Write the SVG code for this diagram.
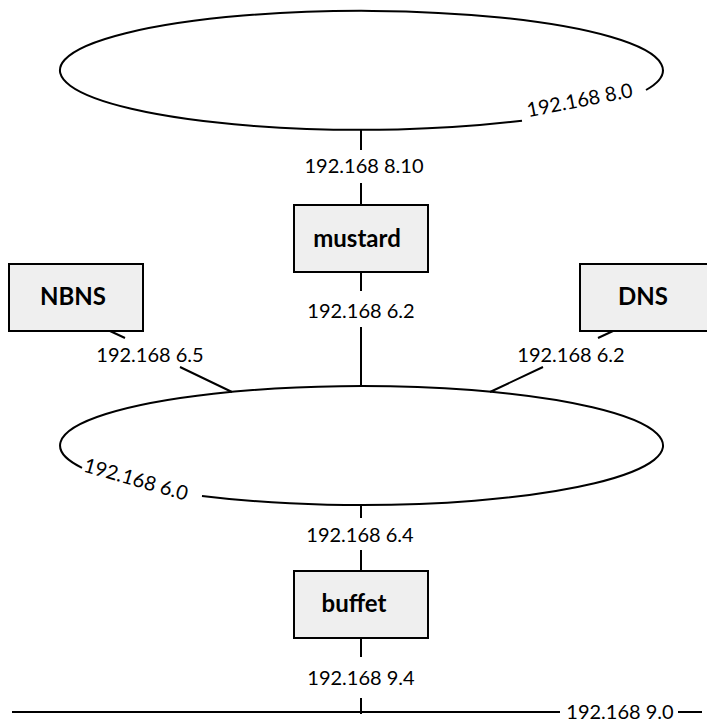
<svg xmlns="http://www.w3.org/2000/svg" width="707" height="725" viewBox="0 0 707 725">
  <style>
    .net { fill: none; stroke: #000; stroke-width: 2; }
    .wire { fill: none; stroke: #000; stroke-width: 2; }
    .box { fill: #efefef; stroke: #000; stroke-width: 2; }
    .name { font-family: Lato, "Open Sans", sans-serif; font-weight: bold; font-size: 24px; fill: #000; text-anchor: middle; }
    .addr { font-family: Lato, "Open Sans", sans-serif; font-size: 20px; fill: #000; text-anchor: middle; }
  </style>
  <rect width="707" height="725" fill="#fff"/>

  <!-- networks -->
  <g id="net-8">
    <path class="net" d="M 646 90 A 301.5 59.5 0 1 0 522 120.7"/>
    <text class="addr" transform="translate(581 107) rotate(-11)">192.168 8.0</text>
  </g>
  <g id="net-6">
    <path class="net" d="M 202 496 A 301.5 59.5 0 1 0 82 467.8"/>
    <text class="addr" transform="translate(134 486) rotate(16)">192.168 6.0</text>
  </g>
  <g id="net-9">
    <path class="net" d="M 12 712 H 560 M 678 712 H 702"/>
    <text class="addr" x="620" y="719">192.168 9.0</text>
  </g>

  <!-- connectors -->
  <g id="connectors">
    <path class="wire" d="M 361 130 V 150 M 361 183 V 205"/>
    <path class="wire" d="M 361 272 V 291 M 361 327 V 387"/>
    <path class="wire" d="M 110 331 L 125 338 M 180 367 L 232 392"/>
    <path class="wire" d="M 613 331 L 598 338 M 543 367 L 490 392"/>
    <path class="wire" d="M 361 505 V 518 M 361 550 V 570"/>
    <path class="wire" d="M 361 638 V 657 M 361 698 V 714"/>
    <text class="addr" x="364" y="173">192.168 8.10</text>
    <text class="addr" x="361" y="318">192.168 6.2</text>
    <text class="addr" x="150" y="362">192.168 6.5</text>
    <text class="addr" x="571" y="362">192.168 6.2</text>
    <text class="addr" x="360" y="542">192.168 6.4</text>
    <text class="addr" x="361" y="685">192.168 9.4</text>
  </g>

  <!-- hosts -->
  <g id="mustard">
    <rect class="box" x="294" y="205" width="134" height="67"/>
    <text class="name" x="357" y="247">mustard</text>
  </g>
  <g id="NBNS">
    <rect class="box" x="9" y="264" width="134" height="67"/>
    <text class="name" x="73" y="305">NBNS</text>
  </g>
  <g id="DNS">
    <rect class="box" x="580" y="264" width="134" height="67"/>
    <text class="name" x="643" y="305">DNS</text>
  </g>
  <g id="buffet">
    <rect class="box" x="294" y="571" width="134" height="67"/>
    <text class="name" x="354" y="612">buffet</text>
  </g>
</svg>
